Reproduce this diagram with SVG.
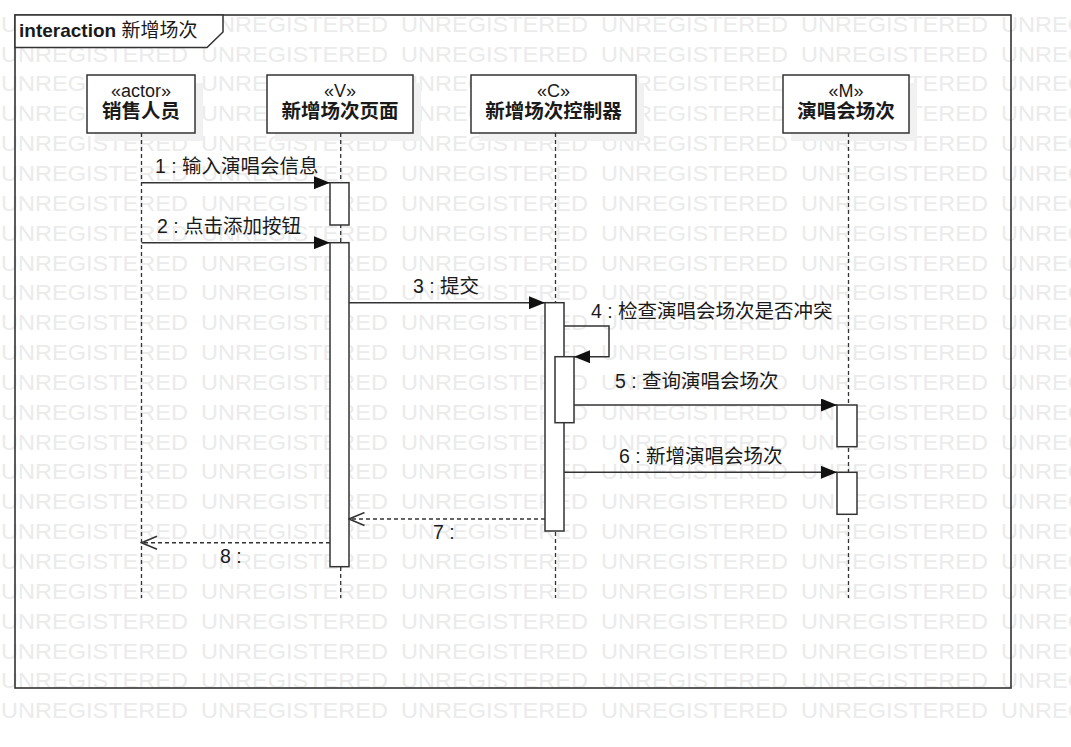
<svg xmlns="http://www.w3.org/2000/svg" width="1071" height="747" viewBox="0 0 1071 747">
<defs>
<style>
.wm{font-family:"Liberation Sans",Arial,sans-serif;font-size:22px;fill:#ebebeb}
.t{font-family:"Liberation Sans","Noto Sans CJK SC",sans-serif;fill:#1a1a1a}
.st{font-size:18px;text-anchor:middle}
.nm{font-size:19.5px;font-weight:bold;text-anchor:middle}
.msg{font-size:19.5px}
.box{fill:#fff;stroke:#333;stroke-width:1.5}
.sh{fill:#f1f1f1}
.life{stroke:#333;stroke-width:1.3;stroke-dasharray:4 3;fill:none}
.act{fill:#fff;stroke:#333;stroke-width:1.5}
.line{stroke:#333;stroke-width:1.5;fill:none}
.dash{stroke:#333;stroke-width:1.5;fill:none;stroke-dasharray:4 3}
.sync{marker-end:url(#filled)}
.ret{marker-end:url(#open)}
</style>
<text id="wm" class="wm"><tspan x="1" textLength="187" lengthAdjust="spacingAndGlyphs">UNREGISTERED</tspan><tspan x="201" textLength="187" lengthAdjust="spacingAndGlyphs">UNREGISTERED</tspan><tspan x="401" textLength="187" lengthAdjust="spacingAndGlyphs">UNREGISTERED</tspan><tspan x="601" textLength="187" lengthAdjust="spacingAndGlyphs">UNREGISTERED</tspan><tspan x="801" textLength="187" lengthAdjust="spacingAndGlyphs">UNREGISTERED</tspan><tspan x="1001" textLength="187" lengthAdjust="spacingAndGlyphs">UNREGISTERED</tspan></text>
<marker id="filled" markerUnits="userSpaceOnUse" viewBox="0 0 16 13" markerWidth="16" markerHeight="13" refX="16" refY="6.5" orient="auto">
<path d="M0,0 L16,6.5 L0,13 Z" fill="#111" stroke="none"/>
</marker>
<marker id="open" markerUnits="userSpaceOnUse" viewBox="-1 -1 18 15" markerWidth="18" markerHeight="15" refX="15.5" refY="6.5" orient="auto">
<path d="M0,0 L15.5,6.5 L0,13" fill="none" stroke="#333" stroke-width="1.5" stroke-dasharray="none"/>
</marker>
</defs>
<rect width="1071" height="747" fill="#fff"/>
<g id="watermark">
<use href="#wm" y="31.7"/><use href="#wm" y="61.55"/><use href="#wm" y="91.4"/><use href="#wm" y="121.25"/>
<use href="#wm" y="151.1"/><use href="#wm" y="180.95"/><use href="#wm" y="210.8"/><use href="#wm" y="240.65"/>
<use href="#wm" y="270.5"/><use href="#wm" y="300.35"/><use href="#wm" y="330.2"/><use href="#wm" y="360.05"/>
<use href="#wm" y="389.9"/><use href="#wm" y="419.75"/><use href="#wm" y="449.6"/><use href="#wm" y="479.45"/>
<use href="#wm" y="509.3"/><use href="#wm" y="539.15"/><use href="#wm" y="569"/><use href="#wm" y="598.85"/>
<use href="#wm" y="628.7"/><use href="#wm" y="658.55"/><use href="#wm" y="688.4"/><use href="#wm" y="718.25"/>
</g>
<g id="frame">
<rect x="15" y="15" width="996" height="673" fill="none" stroke="#333" stroke-width="1.6"/>
<path d="M15,15 H223 V32 L207,47.5 H15 Z" fill="#fff" stroke="#333" stroke-width="1.5"/>
<text class="t" x="19" y="36.5" style="font-size:19px"><tspan font-weight="bold">interaction</tspan> 新增场次</text>
</g>
<g id="lifeline-actor">
<rect class="sh" x="95" y="83" width="108" height="58"/>
<line class="life" x1="141.5" y1="133" x2="141.5" y2="598"/>
<rect class="box" x="87" y="75" width="108" height="58"/>
<text class="t st" x="141" y="97">«actor»</text>
<text class="t nm" x="141" y="117.5">销售人员</text>
</g>
<g id="lifeline-view">
<rect class="sh" x="275" y="83" width="146" height="58"/>
<line class="life" x1="340.7" y1="133" x2="340.7" y2="598"/>
<rect class="box" x="267" y="75" width="146" height="58"/>
<text class="t st" x="340" y="97">«V»</text>
<text class="t nm" x="340" y="117.5">新增场次页面</text>
<rect class="act" x="330" y="182.7" width="19" height="42.3"/>
<rect class="act" x="330" y="242.7" width="19" height="324"/>
</g>
<g id="lifeline-controller">
<rect class="sh" x="479" y="83" width="165" height="58"/>
<line class="life" x1="555.5" y1="133" x2="555.5" y2="598"/>
<rect class="box" x="471" y="75" width="165" height="58"/>
<text class="t st" x="553.5" y="97">«C»</text>
<text class="t nm" x="553.5" y="117.5">新增场次控制器</text>
<rect class="act" x="545" y="302.7" width="19" height="228.3"/>
<rect class="act" x="555" y="356.7" width="19" height="66"/>
</g>
<g id="lifeline-model">
<rect class="sh" x="791" y="83" width="126" height="58"/>
<line class="life" x1="848.5" y1="133" x2="848.5" y2="598"/>
<rect class="box" x="783" y="75" width="126" height="58"/>
<text class="t st" x="846" y="97">«M»</text>
<text class="t nm" x="846" y="117.5">演唱会场次</text>
<rect class="act" x="837" y="405" width="20" height="41.7"/>
<rect class="act" x="837" y="472.3" width="20" height="42"/>
</g>
<g id="connectors">
<path class="line sync" d="M141.5,182.7 H330"/>
<path class="line sync" d="M141.5,242.7 H330"/>
<path class="line sync" d="M349,302.7 H545"/>
<path class="line sync" d="M564,326 H609 V356.7 H574"/>
<path class="line sync" d="M574,405 H837"/>
<path class="line sync" d="M564,472.3 H837"/>
<path class="dash ret" d="M545,519 H349"/>
<path class="dash ret" d="M330,542.7 H141.5"/>
<text class="t msg" x="155" y="173">1 : 输入演唱会信息</text>
<text class="t msg" x="157" y="232.7">2 : 点击添加按钮</text>
<text class="t msg" x="413" y="292.7">3 : 提交</text>
<text class="t msg" x="591" y="318">4 : 检查演唱会场次是否冲突</text>
<text class="t msg" x="615" y="388.3">5 : 查询演唱会场次</text>
<text class="t msg" x="619" y="463.3">6 : 新增演唱会场次</text>
<text class="t msg" x="433" y="539">7 :</text>
<text class="t msg" x="220" y="562.7">8 :</text>
</g>
</svg>
